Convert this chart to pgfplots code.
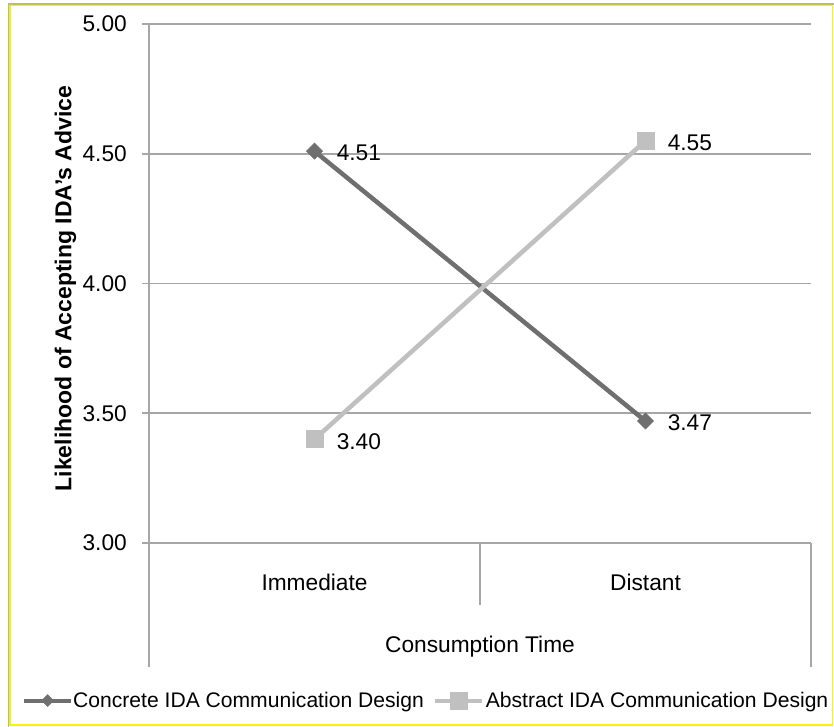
\documentclass[border=0pt]{standalone}
\usepackage{pgfplots}
\pgfplotsset{compat=1.18}
\usepackage{fontspec}
\setmainfont{Liberation Sans}
\definecolor{darkser}{HTML}{6F6F6F}
\definecolor{lightser}{HTML}{C0C0C0}
\definecolor{gridc}{HTML}{A6A6A6}
\definecolor{frameyel}{HTML}{F5F500}
\definecolor{framegray}{HTML}{B4B4B4}
\newcommand{\chfont}{\fontsize{22.7pt}{27pt}\selectfont}
\newcommand{\lgfont}{\fontsize{21.1pt}{25pt}\selectfont}
\begin{document}
\begin{tikzpicture}
\useasboundingbox (0,0) rectangle (834pt,-727pt);
\fill[white] (0,0) rectangle (834pt,-727pt);
\draw[framegray, line width=1.5pt] (8.3pt,-727pt) -- (8.3pt,-3.8pt) -- (834pt,-3.8pt);
\draw[frameyel, line width=1.2pt] (10pt,-5.4pt) rectangle (832.8pt,-725pt);
\begin{axis}[
  at={(149pt,-543pt)}, anchor=south west,
  scale only axis, width=662pt, height=519pt,
  xmin=-0.5, xmax=1.5, ymin=3, ymax=5,
  clip=false,
  axis line style={draw=none},
  ymajorgrids, grid style={gridc, line width=1.6pt},
  ytick={3,3.5,4,4.5,5},
  ytick pos=left,
  tick align=outside,
  major tick length=7pt,
  y tick style={gridc, line width=1.6pt},
  x tick style={draw=none},
  xtick={0,1},
  xticklabels={Immediate,Distant},
  xticklabel style={font=\chfont, anchor=base, inner sep=0pt, yshift=-40pt},
  yticklabel style={font=\chfont, anchor=east, inner sep=0pt, xshift=-15pt,
    /pgf/number format/fixed, /pgf/number format/fixed zerofill,
    /pgf/number format/precision=2, /pgf/number format/assume math mode=true},
  xlabel={Consumption Time},
  xlabel style={font=\chfont, at={(axis description cs:0.5,-0.2100)}, anchor=base, inner sep=0pt},
  ylabel={Likelihood of Accepting IDA's Advice},
  ylabel style={font=\bfseries\fontsize{23pt}{27pt}\selectfont, at={(axis description cs:-0.1171,0.4904)}, anchor=base, inner sep=0pt},
  nodes near coords={\pgfmathprintnumber[fixed,fixed zerofill,precision=2,assume math mode=true]{\pgfplotspointmeta}},
  every node near coord/.append style={font=\chfont, text=black, anchor=west, inner sep=0pt, xshift=22pt, yshift=-2pt},
  legend columns=2,
  legend style={at={(axis description cs:-0.19184,-0.3035)}, anchor=west, draw=none, fill=none, inner sep=0pt,
    font=\lgfont,
    /tikz/every odd column/.append style={column sep=-2pt},
    /tikz/every even column/.append style={column sep=7pt}},
  legend image code/.code={\draw[mark repeat=2,mark phase=2] plot coordinates {(0pt,0pt) (23.5pt,0pt) (47pt,0pt)};},
]
\draw[gridc, line width=1.6pt] (axis cs:-0.5,5) -- ([yshift=-124pt]axis cs:-0.5,3);
\draw[gridc, line width=1.6pt] (axis cs:0.5,3) -- ([yshift=-62pt]axis cs:0.5,3);
\draw[gridc, line width=1.6pt] (axis cs:1.5,3) -- ([yshift=-124pt]axis cs:1.5,3);
\addplot[darkser, line width=4.5pt, mark=square*, mark size=5.7pt,
  mark options={rotate=45, solid, line width=0.5pt},
  legend image post style={line width=4pt, mark size=4.2pt}]
  coordinates {(0,4.51) (1,3.47)};
\addlegendentry{Concrete IDA Communication Design}
\addplot[lightser, line width=4.5pt, mark=square*, mark size=8.5pt,
  mark options={solid, line width=0.5pt},
  legend image post style={line width=4pt},
  legend image code/.code={\draw[mark repeat=2,mark phase=2] plot coordinates {(0pt,0pt) (23.5pt,0pt) (47pt,0pt)}; \path (49pt,0pt);}]
  coordinates {(0,3.40) (1,4.55)};
\addlegendentry{Abstract IDA Communication Design}
\end{axis}
\end{tikzpicture}
\end{document}
